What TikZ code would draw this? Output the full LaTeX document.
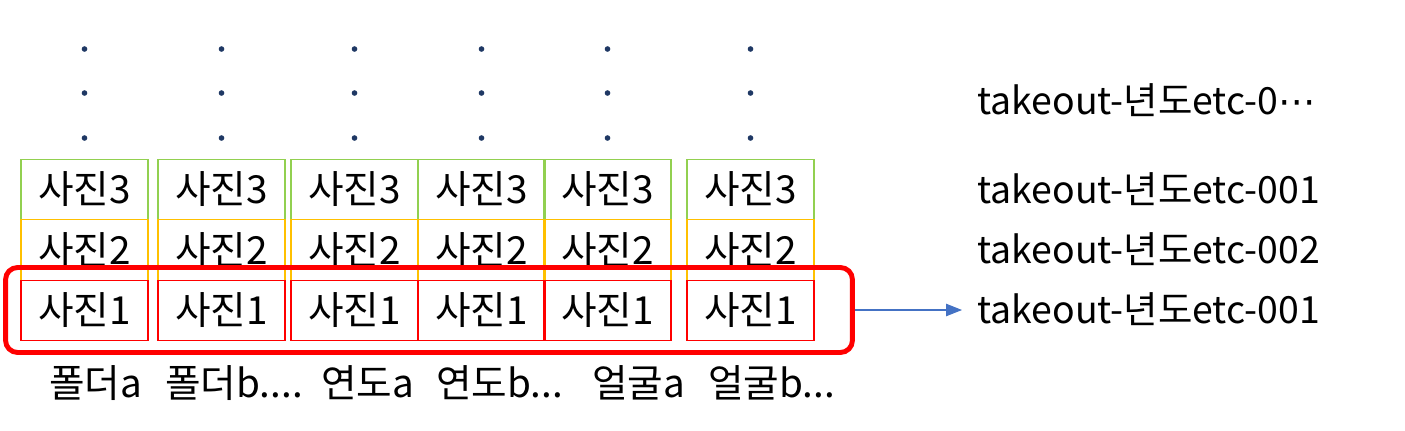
\documentclass[tikz,border=0pt]{standalone}
\usepackage{fontspec}
\setmainfont{Noto Sans CJK KR}
\newfontfamily\dotsfont{DejaVu Sans}
\usetikzlibrary{arrows.meta,calc,positioning}
\definecolor{photoGreen}{HTML}{92D050}
\definecolor{photoGold}{HTML}{FFC000}
\definecolor{photoRed}{HTML}{FF0000}
\definecolor{dotNavy}{HTML}{1F3864}
\definecolor{arrowBlue}{HTML}{4472C4}
\tikzset{
  photo/.style={draw, line width=0.6pt, inner sep=0pt, minimum width=2.54cm,
    minimum height=1.21cm, font=\fontsize{22}{26}\selectfont},
  tag/.style={anchor=base west, inner sep=0pt, font=\fontsize{22}{26}\selectfont},
  archive/.style={anchor=base west, inner sep=0pt, font=\fontsize{21.3}{25}\selectfont},
}

\begin{document}
\begin{tikzpicture}[x=0.02cm, y=-0.02cm]
  \useasboundingbox (0,0) rectangle (1405,430);
  % photo stacks, one per folder
  \foreach \cx [count=\i] in {84.5,221.5,354.5,481.5,607.5,750.5} {
    \foreach \cy in {49,93,138}
      \fill[dotNavy] (\cx,\cy) circle (1.6pt);
    \node[photo, draw=photoGreen] (p\i-3) at (\cx,189.5) {사진3};
    \node[photo, draw=photoGold] (p\i-2) at (\cx,250) {사진2};
    \node[photo, draw=photoRed] (p\i-1) at (\cx,310.5) {사진1};
  }
  \node[draw=photoRed, line width=2.8pt, rounded corners=0.24cm, minimum width=16.94cm,
    minimum height=1.7cm] (sel) at (429,310) {};

  % folder names
  \node[tag] (f1) at (49,397) {폴더a};
  \node[tag] (f2) at (165,397) {폴더b....};
  \node[tag] (f3) at (321,397) {연도a};
  \node[tag] (f4) at (436,397) {연도b...};
  \node[tag] (f5) at (592,397) {얼굴a};
  \node[tag] (f6) at (708,397) {얼굴b...};

  % takeout archives
  \node[archive] (out0) at (977,114) {takeout-년도etc-0{\dotsfont ⋯}};
  \node[archive] (out1) at (977,203) {takeout-년도etc-001};
  \node[archive] (out2) at (977,263) {takeout-년도etc-002};
  \node[archive] (out3) at (977,323) {takeout-년도etc-001};
  \draw[arrowBlue, line width=0.6pt, -{Triangle[length=9pt,width=7pt]}, shorten >=0.3cm]
    (sel.east) -- (sel.east -| out3.west);
\end{tikzpicture}
\end{document}
